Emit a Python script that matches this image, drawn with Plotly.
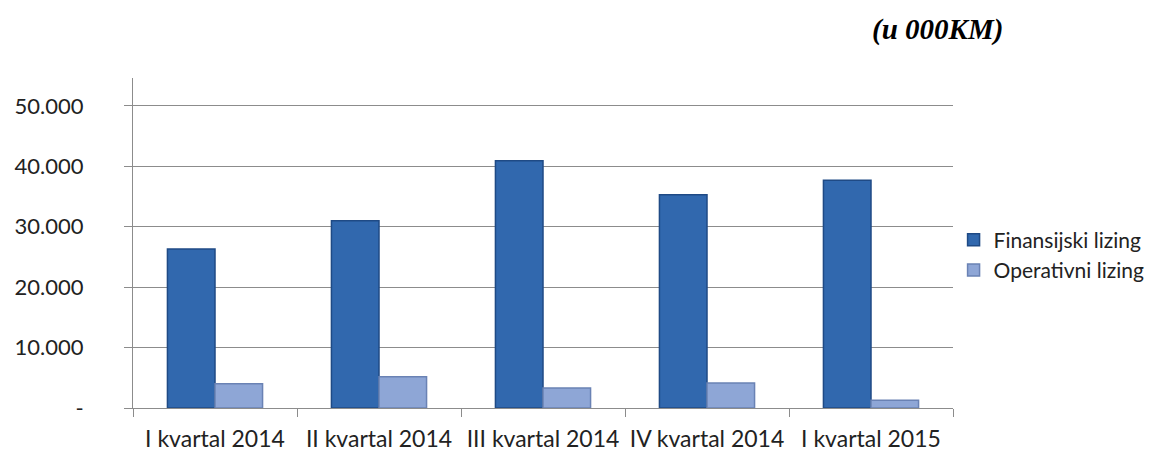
import plotly.graph_objects as go

categories = ["I kvartal 2014", "II kvartal 2014", "III kvartal 2014", "IV kvartal 2014", "I kvartal 2015"]
finansijski = [26300, 31000, 40900, 35300, 37700]
operativni = [4000, 5150, 3300, 4150, 1300]
tick_vals = [0, 10000, 20000, 30000, 40000, 50000]
tick_text = ["-", "10.000", "20.000", "30.000", "40.000", "50.000"]

fig = go.Figure()
fig.add_trace(go.Bar(x=categories, y=finansijski, name="Finansijski lizing", legendgroup="a",
                     marker=dict(color="#3168AE", line=dict(color="#1F4A85", width=1.5))))
fig.add_trace(go.Bar(x=categories, y=operativni, name="Operativni lizing", legendgroup="b",
                     marker=dict(color="#8EA6D6", line=dict(color="#6A82B4", width=1.5))))

# plot area in figure coordinates (page has 8px body offset)
L, R, T, B = 125, 945, 70, 400
W, H = 1158, 455

fig.update_layout(
    width=W, height=H,
    paper_bgcolor="white", plot_bgcolor="white",
    margin=dict(l=L, r=W - R, t=T, b=H - B),
    barmode="group", bargap=0.42, bargroupgap=0,
    font=dict(family="Lato", size=22, color="#222222"),
    legend=dict(x=1.0007, y=1 - (247 - T) / (B - T), yanchor="middle", xanchor="left",
                font=dict(family="Lato", size=21, color="#222222"),
                itemwidth=30, tracegroupgap=9, traceorder="normal"),
)
fig.add_annotation(text="<b><i>(u 000KM)</i></b>", xref="paper", yref="paper",
                   x=(997 - L) / (R - L), y=1 + (T - 21) / (B - T),
                   xanchor="right", yanchor="middle", showarrow=False,
                   font=dict(family="Liberation Serif", size=29, color="black"))
fig.update_yaxes(range=[0, 54600], tickvals=tick_vals, ticktext=tick_text,
                 showgrid=True, gridcolor="#8C8C8C", gridwidth=1,
                 showline=True, linecolor="#8C8C8C", linewidth=1,
                 ticks="outside", ticklen=8, tickcolor="#8C8C8C",
                 ticklabelstandoff=36, automargin=False,
                 tickfont=dict(family="Lato", size=22, color="#222222"),
                 zeroline=False)
fig.update_xaxes(showline=True, linecolor="#8C8C8C", linewidth=1,
                 ticks="outside", ticklen=8, tickcolor="#8C8C8C", tickson="boundaries",
                 ticklabelstandoff=10, tickangle=0, automargin=False,
                 tickfont=dict(family="Lato", size=23, color="#222222"))

fig.write_html("out.html")
